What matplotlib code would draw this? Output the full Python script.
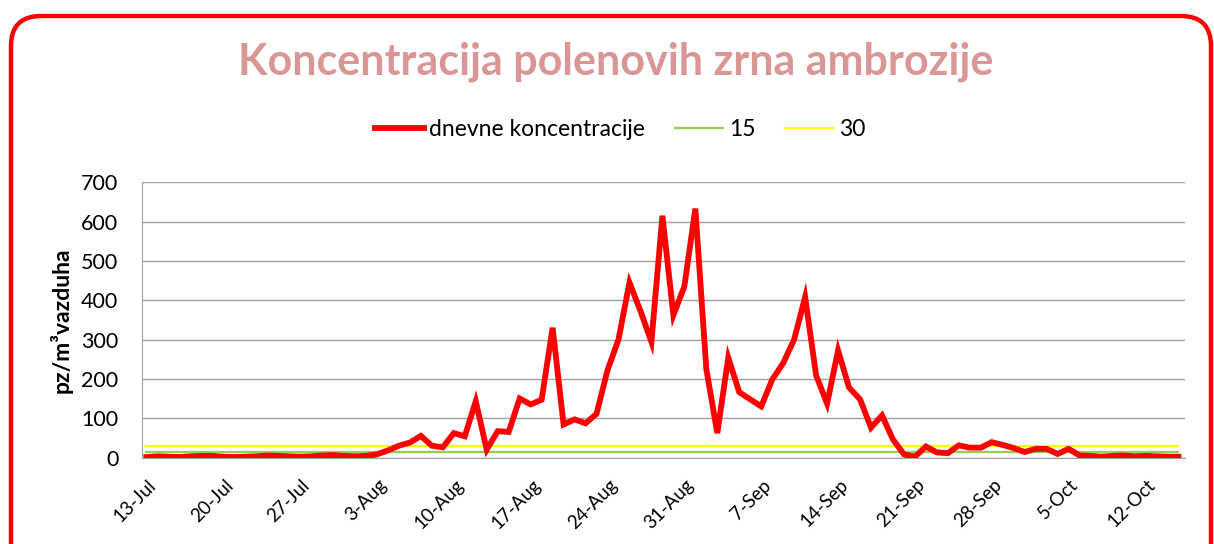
import numpy as np
import matplotlib
matplotlib.use("Agg")
import matplotlib.pyplot as plt
from matplotlib.patches import FancyBboxPatch
from matplotlib.transforms import ScaledTranslation

plt.rcParams['font.family'] = ['Lato', 'DejaVu Sans']

# daily ragweed pollen concentration, 13-Jul .. 15-Oct
concentration = [1, 3, 2, 1, 3, 4, 4, 2, 1, 2, 3, 5, 4, 3, 2, 3, 5, 6, 4, 3, 4,
                 8, 18, 30, 38, 55, 30, 26, 62, 54, 143, 20, 67, 65, 150, 135, 147,
                 330, 84, 97, 87, 111, 222, 300, 445, 373, 294, 615, 362, 435, 633,
                 225, 62, 254, 166, 148, 130, 198, 240, 300, 408, 209, 137, 272, 178,
                 148, 76, 107, 46, 8, 2, 28, 13, 11, 31, 25, 25, 39, 32, 24, 14,
                 22, 22, 9, 22, 5, 4, 2, 4, 5, 3, 4, 3, 2, 2]
threshold_low = 15
threshold_high = 30
tick_labels = ['13-Jul', '20-Jul', '27-Jul', '3-Aug', '10-Aug', '17-Aug', '24-Aug',
               '31-Aug', '7-Sep', '14-Sep', '21-Sep', '28-Sep', '5-Oct', '12-Oct']

days = np.arange(len(concentration))

fig = plt.figure(figsize=(12.14, 5.44), dpi=100)
ax = fig.add_axes([142 / 1214, 1 - 457.5 / 544, 1043 / 1214, 275.2 / 544])

# rounded red frame around the chart
frame = FancyBboxPatch((0.11, -0.6), 12.0, 5.88, boxstyle="round,pad=0,rounding_size=0.3",
                       transform=fig.dpi_scale_trans, facecolor='none', edgecolor='#FF0000',
                       linewidth=3.2, zorder=0)
fig.patches.append(frame)

ax.plot(days, concentration, color='#FF0000', lw=4.2, label='dnevne koncentracije', zorder=3,
        solid_joinstyle='miter')
ax.plot(days, [threshold_low] * len(days), color='#92D050', lw=1.6, label='15', zorder=2)
ax.plot(days, [threshold_high] * len(days), color='#FFFF00', lw=1.6, label='30', zorder=2)

ax.set_xlim(-0.4, 94.6)
ax.set_ylim(0, 700)
ax.set_yticks(range(0, 701, 100))
ax.yaxis.grid(True, color='#A0A0A0', lw=1)
ax.set_axisbelow(True)
for s in ['top', 'right']:
    ax.spines[s].set_visible(False)
ax.spines['left'].set_color('#A0A0A0')
ax.spines['bottom'].set_color('#A0A0A0')
ax.tick_params(axis='y', length=0, pad=17, labelsize=15.5)
ax.tick_params(axis='x', length=0, pad=2)

ax.set_xticks(days[::7])
ax.set_xticklabels(tick_labels, rotation=45, ha='right', va='top',
                   rotation_mode='anchor', fontsize=13.5)
offset = ScaledTranslation(1 / 100, -16 / 100, fig.dpi_scale_trans)
for lbl in ax.get_xticklabels():
    lbl.set_transform(lbl.get_transform() + offset)

ax.set_ylabel('pz/m³vazduha', fontsize=16.5, fontweight='bold', labelpad=6)

fig.text(0.507, 1 - 62 / 544, 'Koncentracija polenovih zrna ambrozije', ha='center',
         va='center', fontsize=31, fontweight='bold', color='#D99694')

fig.legend(loc='center', bbox_to_anchor=(0.511, 1 - 130 / 544), ncol=3, frameon=False,
           fontsize=16.5, handlelength=2.1, columnspacing=1.3, handletextpad=0.25)

fig.savefig('out.png', dpi=100)
